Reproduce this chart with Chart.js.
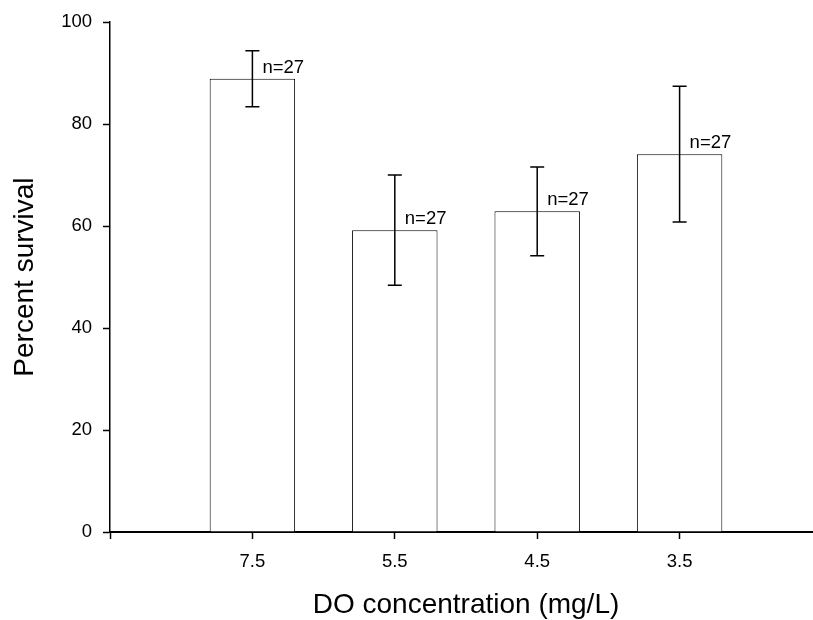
<!DOCTYPE html>
<html>
<head>
<meta charset="utf-8">
<script src="https://cdn.jsdelivr.net/npm/chart.js@4.4.1/dist/chart.umd.min.js"></script>
<style>
  html, body { margin: 0; padding: 0; background: #fff; overflow: hidden; }
  #wrap { width: 813px; height: 620px; overflow: hidden; }
  canvas { display: block; }
</style>
</head>
<body>
<div id="wrap"><canvas id="chart" width="840" height="620"></canvas></div>
<script>
const categories = ['7.5', '5.5', '4.5', '3.5'];
const survival = [88.9, 59.2, 62.9, 74.1];
const errors = [5.5, 10.8, 8.7, 13.3];
const sampleSizes = [27, 27, 27, 27];
const yTicks = [0, 20, 40, 60, 80, 100];

// empty slots on both ends so the axis runs one step past the outer bars
const labels = [''].concat(categories, ['']);
const values = [null].concat(survival, [null]);

Chart.defaults.font.family = '"Liberation Sans", Arial, sans-serif';
Chart.defaults.color = '#000';

const errorBars = {
    id: 'errorBars',
    afterDatasetsDraw(chart) {
        const ctx = chart.ctx;
        const xs = chart.scales.x;
        const ys = chart.scales.y;
        ctx.save();
        ctx.strokeStyle = '#000';
        ctx.lineWidth = 1.5;
        ctx.fillStyle = '#000';
        ctx.font = '18.5px "Liberation Sans", Arial, sans-serif';
        ctx.textAlign = 'left';
        ctx.textBaseline = 'alphabetic';
        categories.forEach(function (c, i) {
            const px = xs.getPixelForValue(i + 1);
            const hi = ys.getPixelForValue(survival[i] + errors[i]);
            const lo = ys.getPixelForValue(survival[i] - errors[i]);
            ctx.beginPath();
            ctx.moveTo(px, hi); ctx.lineTo(px, lo);
            ctx.moveTo(px - 7, hi); ctx.lineTo(px + 7, hi);
            ctx.moveTo(px - 7, lo); ctx.lineTo(px + 7, lo);
            ctx.stroke();
            ctx.fillText('n=' + sampleSizes[i], px + 10, ys.getPixelForValue(survival[i]) - 6);
        });
        ctx.restore();
    }
};

const ctx = document.getElementById('chart').getContext('2d');
const myChart = new Chart(ctx, {
    type: 'bar',
    data: {
        labels: labels,
        datasets: [{
            data: values,
            backgroundColor: '#fff',
            borderColor: '#000',
            borderWidth: 1,
            borderSkipped: 'bottom',
            categoryPercentage: 1,
            barPercentage: 0.6
        }]
    },
    options: {
        responsive: false,
        animation: false,
        layout: { padding: { top: 19, right: 18, left: 0, bottom: 0 } },
        plugins: {
            legend: { display: false },
            tooltip: { enabled: false }
        },
        scales: {
            x: {
                offset: false,
                grid: { offset: false, drawOnChartArea: false, tickLength: 7, tickColor: '#000', tickWidth: 1.5 },
                border: { color: '#000', width: 2 },
                ticks: { autoSkip: false, maxRotation: 0, padding: 12, font: { size: 18.5 } },
                title: {
                    display: true,
                    text: 'DO concentration (mg/L)',
                    font: { size: 28, lineHeight: 1 },
                    padding: { top: 1, bottom: 1 }
                },
                afterFit: function (scale) { scale.height = 88; }
            },
            y: {
                min: 0,
                max: 100,
                grid: { drawOnChartArea: false, tickLength: 7, tickColor: '#000', tickWidth: 1.5 },
                border: { color: '#000', width: 1.5 },
                ticks: { padding: 11, font: { size: 18.5 } },
                afterBuildTicks: function (scale) {
                    scale.ticks = yTicks.map(function (v) { return { value: v }; });
                },
                title: {
                    display: true,
                    text: 'Percent survival',
                    font: { size: 28, lineHeight: 1 },
                    padding: { top: 11, bottom: 0 }
                },
                afterFit: function (scale) { scale.width = 110; }
            }
        }
    },
    plugins: [errorBars]
});
</script>
</body>
</html>
